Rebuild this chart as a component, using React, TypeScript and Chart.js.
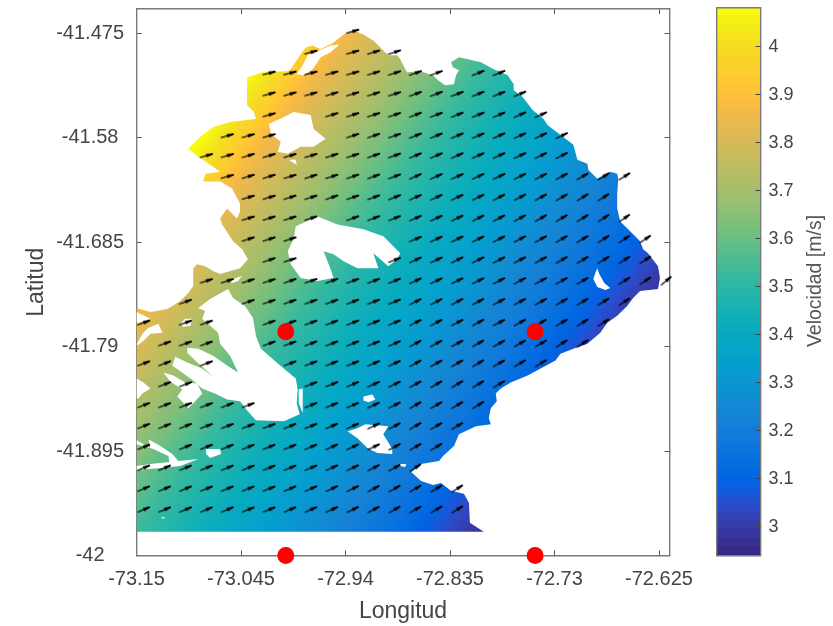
import React, { useEffect, useRef } from "react";
import { Chart, registerables } from "chart.js";

Chart.register(...registerables);

// Thousandths of a degree east of 73.15W and north of 42S: [east, north]
const coast = [
  [52,409],[64,421],[77,431],[94,436],[111,438],[120,439],[118,446],[111,453],[111,466],[111,481],[127,486],[152,487],[155,489],[165,504],[170,511],[177,513],[185,509],[198,516],[208,524],[218,528],[228,524],[238,518],[245,511],[253,503],[262,503],[265,499],[269,491],[272,486],[285,487],[298,483],[303,478],[310,473],[319,474],[321,483],[324,488],[318,491],[316,496],[324,501],[333,499],[346,496],[359,489],[373,483],[379,474],[379,468],[388,461],[398,448],[409,439],[413,433],[426,423],[439,413],[443,398],[453,394],[454,388],[463,379],[476,386],[483,384],[484,379],[483,363],[483,349],[486,336],[496,326],[506,316],[509,308],[514,304],[524,291],[526,279],[524,268],[506,266],[499,259],[493,251],[483,241],[473,234],[466,224],[453,213],[439,208],[426,203],[421,196],[406,188],[393,181],[376,174],[366,168],[361,163],[362,155],[356,148],[354,138],[356,132],[341,130],[324,122],[319,110],[308,100],[304,95],[286,92],[276,84],[286,75],[298,71],[306,73],[316,65],[329,62],[334,53],[335,33],[349,24],[0,24],[0,249],[14,245],[31,248],[44,256],[52,264],[57,271],[57,289],[61,293],[69,291],[77,286],[84,283],[104,289],[112,298],[106,308],[97,316],[86,333],[84,339],[91,349],[101,339],[104,346],[104,354],[96,369],[84,376],[67,376],[69,384],[84,386],[74,393],[62,401],
];
const spitLagoon = [[161,484],[167,493],[172,503],[182,507],[195,513],[204,514],[195,506],[185,501],[177,489],[168,483]];
const northIsland = [[133,434],[148,441],[158,446],[175,443],[178,429],[190,419],[178,411],[165,411],[152,404],[142,406],[145,416],[135,424]];
const northSpeck = [[153,398],[160,398],[161,393],[156,396]];
const westSlit = [[94,277],[106,281],[102,276],[96,274]];
const centralLagoon = [[160,331],[182,341],[202,333],[228,328],[248,321],[265,304],[262,298],[253,291],[238,304],[243,289],[222,289],[208,296],[198,303],[188,306],[195,288],[198,279],[182,276],[165,279],[155,293],[152,306],[158,319]];
const eastNotch = [[463,289],[465,283],[470,274],[476,269],[471,267],[463,270],[459,278],[461,284]];
const fjord = [[62,249],[74,258],[92,268],[97,259],[109,251],[117,239],[120,221],[125,208],[142,193],[160,178],[162,167],[161,153],[164,142],[148,135],[120,136],[111,146],[104,155],[91,157],[81,162],[66,168],[57,176],[36,191],[39,200],[51,194],[66,188],[77,180],[59,196],[51,204],[51,209],[62,208],[77,201],[91,191],[102,184],[94,201],[84,213],[82,224],[74,231],[66,238],[69,246]];
const fjordSlit = [[163,167],[167,168],[167,155],[167,143],[163,153]];
const westA = [[0,245],[14,238],[2,234],[0,234]];
const westB = [[0,212],[6,223],[12,229],[22,233],[26,224],[14,223],[7,216],[2,212]];
const westC = [[44,233],[49,238],[56,238],[54,231],[47,230]];
const westD = [[0,178],[7,174],[14,168],[6,163],[2,158],[0,158]];
const westE = [[27,184],[37,181],[49,174],[61,173],[66,163],[59,155],[52,148],[41,160],[46,167],[34,175]];
const southInlet = [[0,116],[14,108],[12,117],[24,110],[36,102],[42,95],[62,97],[44,90],[24,88],[0,86],[0,90],[14,92],[33,94],[32,100],[17,107],[0,112]];
const southPatch = [[70,107],[84,107],[85,102],[74,98],[70,102]];
const southSpeck = [[24,39],[29,38],[27,37]];
const midIsland = [[212,125],[222,128],[230,132],[253,130],[248,122],[257,107],[257,102],[242,103],[232,108],[222,118]];
const midSpeck = [[228,160],[237,162],[240,157],[233,154],[228,156]];
const eastSpeck = [[264,92],[271,92],[270,89],[265,90]];
const waterBodies = [spitLagoon, northIsland, northSpeck, westSlit, centralLagoon, eastNotch, fjord, fjordSlit, westA, westB, westC, westD, westE, southInlet, southPatch, southSpeck, midIsland, midSpeck, eastSpeck];

const lonTicks = [-73.15, -73.045, -72.94, -72.835, -72.73, -72.625];
const latTicks = [-42, -41.895, -41.79, -41.685, -41.58, -41.475];
const speedTicks = [3, 3.1, 3.2, 3.3, 3.4, 3.5, 3.6, 3.7, 3.8, 3.9, 4];

const stationLon = [-73.0, -72.7495, -73.0, -72.7495];
const stationLat = [-41.775, -41.775, -42, -42];

const arrowLat = [-41.473,-41.494,-41.515,-41.536,-41.557,-41.578,-41.598,-41.619,-41.64,-41.661,-41.682,-41.703,-41.724,-41.745,-41.766,-41.787,-41.807,-41.828,-41.849,-41.87,-41.891,-41.912,-41.933,-41.954];
const arrowLon = [-73.143,-73.122,-73.101,-73.08,-73.059,-73.038,-73.017,-72.996,-72.975,-72.954,-72.933,-72.912,-72.891,-72.87,-72.849,-72.828,-72.807,-72.786,-72.765,-72.744,-72.723,-72.702,-72.681,-72.66,-72.639,-72.618];
// For each latitude row: inclusive column spans that hold an arrow
const arrowSpans = [
  [[10,10]],
  [[8,8],[10,12]],
  [[6,14],[16,17]],
  [[6,18]],
  [[6,6],[9,19]],
  [[4,6],[10,20]],
  [[3,20]],
  [[4,23]],
  [[5,22]],
  [[5,8],[10,23]],
  [[5,7],[13,24]],
  [[6,7],[12,24]],
  [[3,21],[23,25]],
  [[2,2],[5,23]],
  [[0,0],[2,3],[6,22]],
  [[1,3],[6,21]],
  [[0,1],[3,3],[7,19]],
  [[1,2],[8,17]],
  [[0,5],[8,16]],
  [[0,15]],
  [[0,0],[2,14]],
  [[0,13]],
  [[0,15]],
  [[0,15]],
];
// Arrow heading in degrees above east, by row and column
const arrowHeading = [
  [15,15,15,15,15,15,15,15,15,16,16,17,18,20,20,21,22,22,23,23,24,25,26,27,28,29],
  [15,15,15,15,15,15,15,15,15,16,16,17,18,20,20,21,22,22,23,23,24,25,26,27,28,29],
  [15,15,15,15,15,15,15,15,15,16,16,17,18,20,20,21,22,22,23,23,24,25,26,27,28,29],
  [15,15,15,15,15,15,16,16,16,17,17,18,18,20,21,21,22,22,23,24,25,26,27,28,29,30],
  [16,16,16,16,16,16,16,16,17,17,18,18,19,21,21,22,22,23,24,24,25,26,27,28,29,30],
  [16,16,16,16,16,16,16,17,17,18,18,19,19,22,22,23,23,24,24,25,26,27,28,29,30,31],
  [16,16,16,16,16,17,17,17,17,18,18,19,20,23,23,24,24,25,25,26,27,28,29,30,31,32],
  [17,17,17,17,16,17,17,17,18,18,19,20,21,24,24,24,25,25,26,27,28,30,31,32,33,34],
  [17,17,17,17,17,17,17,18,18,19,19,20,22,24,25,25,26,27,28,29,30,32,33,34,35,36],
  [18,18,18,18,18,17,18,18,18,19,20,21,22,24,25,26,27,28,29,30,31,32,33,35,35,36],
  [18,18,18,18,18,18,18,18,19,19,20,21,22,23,25,26,26,27,28,29,30,31,32,33,34,36],
  [19,19,19,19,19,19,19,18,19,20,20,21,22,25,25,26,26,27,28,29,30,31,32,33,34,37],
  [19,19,19,18,18,18,18,19,19,20,20,21,22,25,25,26,26,27,28,28,29,30,31,32,34,40],
  [20,20,20,19,19,19,19,19,20,20,21,21,22,27,27,28,28,28,28,29,30,31,32,33,35,38],
  [20,20,20,20,20,20,20,20,20,21,21,22,23,27,28,28,29,28,29,30,31,32,33,34,35,38],
  [20,20,20,20,20,20,20,20,21,21,22,22,24,28,29,29,30,29,30,31,32,33,34,35,36,38],
  [21,21,21,21,21,21,20,21,21,22,22,23,25,29,29,30,31,30,31,32,33,34,35,36,36,38],
  [21,21,21,21,21,21,21,21,21,22,23,24,26,29,30,31,31,31,32,33,34,34,35,36,37,38],
  [21,21,21,21,21,21,21,21,22,22,23,25,27,30,30,31,32,32,33,34,34,35,36,36,37,38],
  [22,22,22,21,21,21,21,22,22,23,24,26,28,30,30,31,32,33,33,34,35,35,36,36,37,38],
  [22,22,22,22,22,22,22,22,23,24,25,26,28,30,31,32,33,33,34,34,35,35,36,37,37,38],
  [23,23,22,22,22,22,22,22,23,24,25,27,29,34,32,33,33,34,34,35,35,36,36,37,37,38],
  [23,23,23,22,22,22,22,23,24,25,26,28,30,30,31,33,33,34,34,35,35,36,36,37,37,38],
  [23,23,23,23,23,22,22,23,24,25,26,28,30,30,31,32,33,34,34,35,35,36,36,37,37,38],
];

// Speed field: the colour changes along this line (yellow end, dark end)
const fieldAxisLon = [-73.0926, -72.7083];
const fieldAxisLat = [-41.589, -41.8766];
const fieldFraction = [0, 0.123, 0.389, 0.661, 0.828, 0.937, 1];
const fieldSpeed = [4.08, 3.85, 3.52, 3.28, 3.13, 3.0, 2.95];

const speedMin = 2.94;
const speedMax = 4.0817;

const parula = [
  [.2081,.1663,.5292],[.2116,.1898,.5777],[.2123,.2138,.627],[.2081,.2386,.6771],[.1959,.2645,.7279],[.1707,.2919,.7792],[.1253,.3242,.8303],[.0591,.3598,.8683],
  [.0117,.3875,.882],[.006,.4086,.8828],[.0165,.4266,.8786],[.0329,.443,.872],[.0498,.4586,.8641],[.0629,.4737,.8554],[.0723,.4887,.8467],[.0779,.504,.8384],
  [.0793,.52,.8312],[.0749,.5375,.8263],[.0641,.557,.824],[.0488,.5772,.8228],[.0343,.5966,.8199],[.0265,.6137,.8135],[.0239,.6287,.8038],[.0231,.6418,.7913],
  [.0228,.6535,.7768],[.0267,.6642,.7607],[.0384,.6743,.7436],[.059,.6838,.7254],[.0843,.6928,.7062],[.1133,.7015,.6859],[.1453,.7098,.6646],[.1801,.7177,.6424],
  [.2178,.725,.6193],[.2586,.7317,.5954],[.3022,.7376,.5712],[.3482,.7424,.5473],[.3953,.7459,.5244],[.442,.7481,.5033],[.4871,.7491,.484],[.53,.7491,.4661],
  [.5709,.7485,.4494],[.6099,.7473,.4337],[.6473,.7456,.4188],[.6834,.7435,.4044],[.7184,.7411,.3905],[.7525,.7384,.3768],[.7858,.7356,.3633],[.8185,.7327,.3498],
  [.8507,.7299,.336],[.8824,.7274,.3217],[.9139,.7258,.3063],[.945,.7261,.2886],[.9739,.7314,.2666],[.9938,.7455,.2403],[.999,.7653,.2164],[.9955,.7861,.1967],
  [.988,.8066,.1794],[.9789,.8271,.1633],[.9697,.8481,.1475],[.9626,.8705,.1309],[.9589,.8949,.1132],[.9598,.9218,.0948],[.9661,.9514,.0755],[.9763,.9831,.0538],
];

const FONT = "'Liberation Sans', Arial, sans-serif";
const TEXT = "#454545";
const FRAME = "#7a7a7a";
const TICK = "#555555";

const css = (c: number[]) => `rgb(${Math.round(c[0] * 255)},${Math.round(c[1] * 255)},${Math.round(c[2] * 255)})`;
const toPts = (ring: number[][]) => ring.map(([e, n]) => ({ x: -73.15 + e / 1000, y: -42 + n / 1000 }));

function fieldGradient(chart: any) {
  if (!chart.chartArea) return "#ffffff";
  const { x, y } = chart.scales;
  const g = chart.ctx.createLinearGradient(
    x.getPixelForValue(fieldAxisLon[0]), y.getPixelForValue(fieldAxisLat[0]),
    x.getPixelForValue(fieldAxisLon[1]), y.getPixelForValue(fieldAxisLat[1]));
  parula.forEach((c, i) => {
    const v = speedMin + ((i + 0.5) / parula.length) * (speedMax - speedMin);
    let f = v >= fieldSpeed[0] ? 0 : 1;
    for (let k = 0; k < fieldSpeed.length - 1; k++) {
      if (v <= fieldSpeed[k] && v >= fieldSpeed[k + 1]) {
        f = fieldFraction[k] + ((fieldSpeed[k] - v) / (fieldSpeed[k] - fieldSpeed[k + 1])) * (fieldFraction[k + 1] - fieldFraction[k]);
      }
    }
    g.addColorStop(f, css(c));
  });
  return g;
}

function arrowSprite() {
  const c = document.createElement("canvas");
  c.width = 16; c.height = 8;
  const ctx = c.getContext("2d")!;
  ctx.strokeStyle = "#000"; ctx.fillStyle = "#000";
  ctx.lineWidth = 1.2; ctx.beginPath(); ctx.moveTo(1.5, 4); ctx.lineTo(14.5, 4); ctx.stroke();
  ctx.beginPath(); ctx.moveTo(8, 2.2); ctx.lineTo(15, 3.3); ctx.lineTo(15, 4.7); ctx.lineTo(8, 5.8); ctx.closePath(); ctx.fill();
  return c;
}

const fixedTicks = (values: number[]) => (scale: any) => { scale.ticks = values.map((value) => ({ value })); };
const noOverflow = (s: any) => { s.paddingTop = 0; s.paddingBottom = 0; s.paddingLeft = 0; s.paddingRight = 0; };
const frameAxis = (extra: any) => ({
  border: { color: FRAME, width: 1.4 },
  grid: { drawOnChartArea: false, tickLength: -5, tickColor: TICK, tickWidth: 1 },
  ...extra,
});

export default function App() {
  const mapRef = useRef<HTMLCanvasElement>(null);
  const barRef = useRef<HTMLCanvasElement>(null);

  useEffect(() => {
    const sprite = arrowSprite();
    const arrows: any[] = [];
    const headings: number[] = [];
    arrowSpans.forEach((spans, r) => spans.forEach(([a, b]) => {
      for (let k = a; k <= b; k++) {
        arrows.push({ x: arrowLon[k], y: arrowLat[r] });
        headings.push(-arrowHeading[r][k]);
      }
    }));
    const lonRange = { min: -73.15, max: -72.61445 };
    const latRange = { min: -42, max: -41.4504 };
    const tickFont = { family: FONT, size: 20 };
    const labelFont = { family: FONT, size: 23 };

    const map = new Chart(mapRef.current!, {
      type: "scatter",
      data: {
        datasets: [
          { type: "scatter", data: stationLon.map((x, i) => ({ x, y: stationLat[i] })), pointRadius: 8.5, pointBackgroundColor: "#ff0000", pointBorderWidth: 0, clip: false, order: 0 },
          { type: "scatter", data: arrows, pointStyle: sprite, pointRadius: 8, pointRotation: headings, clip: false, order: 1 },
          ...waterBodies.map((ring) => ({ type: "line", data: toPts(ring), fill: "shape", backgroundColor: "#ffffff", borderWidth: 0, pointRadius: 0, tension: 0, order: 2 })),
          { type: "line", data: toPts(coast), fill: "shape", backgroundColor: (c: any) => fieldGradient(c.chart), borderWidth: 0, pointRadius: 0, tension: 0, order: 3 },
        ] as any,
      },
      options: {
        responsive: false,
        animation: false,
        events: [],
        layout: { padding: { left: 16.5, top: 7.5, right: 30.5, bottom: 0.5 } },
        plugins: { legend: { display: false }, tooltip: { enabled: false } },
        scales: {
          x: frameAxis({
            type: "linear", position: "bottom", ...lonRange,
            afterBuildTicks: fixedTicks(lonTicks),
            afterFit: (s: any) => { s.height = 70; noOverflow(s); },
            ticks: { autoSkip: false, maxRotation: 0, padding: 17, font: tickFont, color: TEXT, callback: (v: any) => String(v) },
            title: { display: true, text: "Longitud", font: labelFont, color: TEXT, padding: { top: 0, bottom: 0.5 } },
          }),
          y: frameAxis({
            type: "linear", position: "left", ...latRange,
            afterBuildTicks: fixedTicks(latTicks),
            afterFit: (s: any) => { s.width = 120; noOverflow(s); },
            ticks: { autoSkip: false, padding: 17.5, crossAlign: "center", font: tickFont, color: TEXT, callback: (v: any) => String(v) },
            title: { display: true, text: "Latitud", font: labelFont, color: TEXT, padding: { top: 6, bottom: 0 } },
          }),
          x2: frameAxis({
            type: "linear", position: "top", ...lonRange,
            afterBuildTicks: fixedTicks(lonTicks),
            afterFit: (s: any) => { s.height = 0; noOverflow(s); },
            ticks: { display: false },
          }),
          y2: frameAxis({
            type: "linear", position: "right", ...latRange,
            afterBuildTicks: fixedTicks(latTicks),
            afterFit: (s: any) => { s.width = 0; noOverflow(s); },
            ticks: { display: false },
          }),
        },
      },
    } as any);

    const step = (speedMax - speedMin) / parula.length;
    const unitLabel = {
      id: "unitLabel",
      afterDraw(chart: any) {
        const ctx = chart.ctx;
        ctx.save();
        ctx.translate(116, 281);
        ctx.rotate(-Math.PI / 2);
        ctx.font = `19.5px ${FONT}`;
        ctx.fillStyle = "#555555";
        ctx.textAlign = "center";
        ctx.textBaseline = "middle";
        ctx.fillText("Velocidad [m/s]", 0, 0);
        ctx.restore();
      },
    };
    const bar = new Chart(barRef.current!, {
      type: "bar",
      data: {
        labels: [""],
        datasets: parula.map((c, i) => ({
          data: [[speedMin + i * step, Math.min(speedMax, speedMin + (i + 1) * step + 0.002)]],
          backgroundColor: css(c),
          grouped: false,
          barPercentage: 1,
          categoryPercentage: 1,
          borderWidth: 0,
          yAxisID: "y",
          xAxisID: "x",
        })),
      },
      plugins: [unitLabel],
      options: {
        responsive: false,
        animation: false,
        events: [],
        layout: { padding: { left: 16.5, top: 7.5, right: 32.5, bottom: 70.5 } },
        plugins: { legend: { display: false }, tooltip: { enabled: false } },
        scales: {
          y: {
            type: "linear", position: "right", min: speedMin, max: speedMax,
            afterBuildTicks: fixedTicks(speedTicks),
            afterFit: (s: any) => { s.width = 40; noOverflow(s); },
            border: { color: FRAME, width: 1.4, z: 1 },
            grid: { drawOnChartArea: false, tickLength: -5, tickColor: "#444444", tickWidth: 1, z: 1 },
            ticks: { autoSkip: false, padding: 13, font: { family: FONT, size: 18 }, color: TEXT, callback: (v: any) => String(v) },
          },
          y2: {
            type: "linear", position: "left", min: speedMin, max: speedMax,
            afterFit: (s: any) => { s.width = 0; noOverflow(s); },
            border: { color: FRAME, width: 1.4, z: 1 },
            grid: { drawOnChartArea: false, drawTicks: false },
            ticks: { display: false },
          },
          x: {
            type: "category", position: "bottom",
            afterFit: (s: any) => { s.height = 0; noOverflow(s); },
            border: { color: FRAME, width: 1.4, z: 1 },
            grid: { drawOnChartArea: false, drawTicks: false },
            ticks: { display: false },
          },
          x2: {
            type: "linear", position: "top", min: 0, max: 1,
            afterFit: (s: any) => { s.height = 0; noOverflow(s); },
            border: { color: FRAME, width: 1.4, z: 1 },
            grid: { drawOnChartArea: false, drawTicks: false },
            ticks: { display: false },
          },
        },
      },
    } as any);

    return () => { map.destroy(); bar.destroy(); };
  }, []);

  return (
    <div style={{ position: "absolute", left: 0, top: 0, width: 833, height: 626, background: "#fff", overflow: "hidden" }}>
      <canvas ref={mapRef} width={700} height={626} style={{ position: "absolute", left: 0, top: 0, filter: "blur(0.45px)" }} />
      <canvas ref={barRef} width={133} height={626} style={{ position: "absolute", left: 700, top: 0, filter: "blur(0.45px)" }} />
    </div>
  );
}
